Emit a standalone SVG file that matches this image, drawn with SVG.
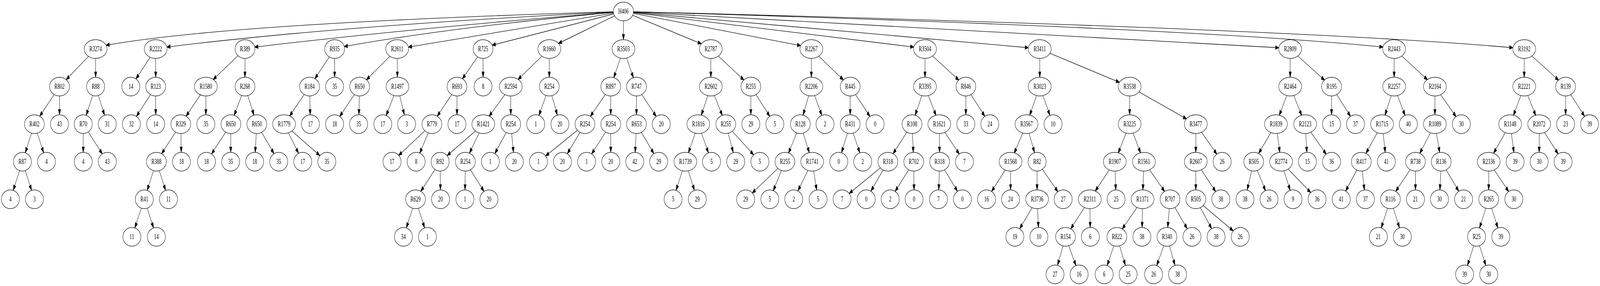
<svg xmlns="http://www.w3.org/2000/svg" width="6381" height="731" viewBox="0 0 6381 731" preserveAspectRatio="none">
<style>
svg{width:100vw;height:100vh}
.ah{fill:#000;stroke:#000;stroke-width:1.33}
#edges line,#edges path{stroke:#000;stroke-width:1.33;fill:none}
.n ellipse{fill:#fff;stroke:#000;stroke-width:1.33}
.n text{font-family:"Liberation Serif","Times New Roman",serif;font-size:18.67px;text-anchor:middle;fill:#000}
</style>
<defs>
<marker id="a0" markerUnits="userSpaceOnUse" markerWidth="120" markerHeight="14" refX="50" refY="7" orient="auto"><path class="ah" d="M50,7L36.67,2.33L36.67,11.67Z"/></marker>
<marker id="a24" markerUnits="userSpaceOnUse" markerWidth="120" markerHeight="14" refX="74" refY="7" orient="auto"><path class="ah" d="M50,7L36.67,2.33L36.67,11.67Z"/></marker>
<marker id="a256" markerUnits="userSpaceOnUse" markerWidth="120" markerHeight="14" refX="75.6" refY="7" orient="auto"><path class="ah" d="M50,7L36.67,2.33L36.67,11.67Z"/></marker>
<marker id="a274" markerUnits="userSpaceOnUse" markerWidth="120" markerHeight="14" refX="77.4" refY="7" orient="auto"><path class="ah" d="M50,7L36.67,2.33L36.67,11.67Z"/></marker>
<marker id="a282" markerUnits="userSpaceOnUse" markerWidth="120" markerHeight="14" refX="78.2" refY="7" orient="auto"><path class="ah" d="M50,7L36.67,2.33L36.67,11.67Z"/></marker>
<marker id="a29" markerUnits="userSpaceOnUse" markerWidth="120" markerHeight="14" refX="79" refY="7" orient="auto"><path class="ah" d="M50,7L36.67,2.33L36.67,11.67Z"/></marker>
<marker id="a30" markerUnits="userSpaceOnUse" markerWidth="120" markerHeight="14" refX="80" refY="7" orient="auto"><path class="ah" d="M50,7L36.67,2.33L36.67,11.67Z"/></marker>
<marker id="a305" markerUnits="userSpaceOnUse" markerWidth="120" markerHeight="14" refX="80.5" refY="7" orient="auto"><path class="ah" d="M50,7L36.67,2.33L36.67,11.67Z"/></marker>
<marker id="a32" markerUnits="userSpaceOnUse" markerWidth="120" markerHeight="14" refX="82" refY="7" orient="auto"><path class="ah" d="M50,7L36.67,2.33L36.67,11.67Z"/></marker>
<marker id="a34" markerUnits="userSpaceOnUse" markerWidth="120" markerHeight="14" refX="84" refY="7" orient="auto"><path class="ah" d="M50,7L36.67,2.33L36.67,11.67Z"/></marker>
<marker id="a39" markerUnits="userSpaceOnUse" markerWidth="120" markerHeight="14" refX="89" refY="7" orient="auto"><path class="ah" d="M50,7L36.67,2.33L36.67,11.67Z"/></marker>
<marker id="a42" markerUnits="userSpaceOnUse" markerWidth="120" markerHeight="14" refX="92" refY="7" orient="auto"><path class="ah" d="M50,7L36.67,2.33L36.67,11.67Z"/></marker>
</defs>
<rect x="0" y="0" width="6381" height="731" fill="#fff"/>
<g id="edges">
<path d="M2486.4,29.3Q921.3,58.6 423,115.6" marker-end="url(#a0)"/>
<path d="M2486.4,29.3Q1345.6,65.7 665.5,120.3" marker-end="url(#a0)"/>
<path d="M2486.4,29.3Q1677.5,70.3 1015.7,120.3" marker-end="url(#a0)"/>
<path d="M2486.4,29.3Q1818.6,67.8 1372.7,118.9" marker-end="url(#a0)"/>
<path d="M2486.4,29.3L1628.6,120.3" marker-end="url(#a0)"/>
<path d="M2486.4,29.3L1962.7,115.6" marker-end="url(#a0)"/>
<path d="M2486.4,29.3L2227.2,111" marker-end="url(#a0)"/>
<path d="M2486.4,29.3L2486.4,101.3" marker-end="url(#a0)"/>
<path d="M2486.4,29.3L2797.1,111.9" marker-end="url(#a0)"/>
<path d="M2486.4,29.3L3193.3,116.6" marker-end="url(#a0)"/>
<path d="M2486.4,29.3L3644.4,120.3" marker-end="url(#a0)"/>
<path d="M2486.4,29.3L4101.5,122" marker-end="url(#a0)"/>
<path d="M2486.4,29.3L5100.2,122" marker-end="url(#a0)"/>
<path d="M2486.4,29.3Q4758,71.1 5515.4,120.3" marker-end="url(#a0)"/>
<path d="M2486.4,29.3Q5166,72.6 6033.6,122" marker-end="url(#a0)"/>
<line x1="381.3" y1="125.3" x2="237.3" y2="221.3" marker-end="url(#a32)"/>
<line x1="381.3" y1="125.3" x2="381.3" y2="221.3" marker-end="url(#a24)"/>
<line x1="237.3" y1="221.3" x2="137.3" y2="317.3" marker-end="url(#a29)"/>
<line x1="237.3" y1="221.3" x2="237.3" y2="317.3" marker-end="url(#a24)"/>
<line x1="381.3" y1="221.3" x2="332" y2="317.3" marker-end="url(#a256)"/>
<line x1="381.3" y1="221.3" x2="428" y2="317.3" marker-end="url(#a256)"/>
<line x1="137.3" y1="317.3" x2="89.3" y2="413.3" marker-end="url(#a256)"/>
<line x1="137.3" y1="317.3" x2="185.3" y2="413.3" marker-end="url(#a256)"/>
<line x1="332" y1="317.3" x2="332" y2="413.3" marker-end="url(#a24)"/>
<line x1="332" y1="317.3" x2="428" y2="413.3" marker-end="url(#a282)"/>
<line x1="89.3" y1="413.3" x2="41.3" y2="509.3" marker-end="url(#a256)"/>
<line x1="89.3" y1="413.3" x2="137.3" y2="509.3" marker-end="url(#a256)"/>
<line x1="620.9" y1="125.3" x2="521.7" y2="221.3" marker-end="url(#a282)"/>
<line x1="620.9" y1="125.3" x2="620.9" y2="221.3" marker-end="url(#a24)"/>
<line x1="620.9" y1="221.3" x2="524" y2="317.3" marker-end="url(#a282)"/>
<line x1="620.9" y1="221.3" x2="620.9" y2="317.3" marker-end="url(#a24)"/>
<line x1="977" y1="125.3" x2="821" y2="221.3" marker-end="url(#a34)"/>
<line x1="977" y1="125.3" x2="977" y2="221.3" marker-end="url(#a24)"/>
<line x1="821" y1="221.3" x2="721.1" y2="317.3" marker-end="url(#a29)"/>
<line x1="821" y1="221.3" x2="821" y2="317.3" marker-end="url(#a24)"/>
<line x1="977" y1="221.3" x2="920.9" y2="317.3" marker-end="url(#a256)"/>
<line x1="977" y1="221.3" x2="1024.2" y2="317.3" marker-end="url(#a256)"/>
<line x1="721.1" y1="317.3" x2="623.7" y2="413.3" marker-end="url(#a29)"/>
<line x1="721.1" y1="317.3" x2="723.5" y2="413.3" marker-end="url(#a24)"/>
<line x1="920.9" y1="317.3" x2="823.4" y2="413.3" marker-end="url(#a282)"/>
<line x1="920.9" y1="317.3" x2="919.8" y2="413.3" marker-end="url(#a24)"/>
<line x1="1024.2" y1="317.3" x2="1015.6" y2="413.3" marker-end="url(#a24)"/>
<line x1="1024.2" y1="317.3" x2="1111.7" y2="413.3" marker-end="url(#a282)"/>
<line x1="623.7" y1="413.3" x2="575.5" y2="509.3" marker-end="url(#a256)"/>
<line x1="623.7" y1="413.3" x2="671.9" y2="509.3" marker-end="url(#a256)"/>
<line x1="575.5" y1="509.3" x2="526" y2="605.3" marker-end="url(#a256)"/>
<line x1="575.5" y1="509.3" x2="623.7" y2="605.3" marker-end="url(#a256)"/>
<line x1="1334.5" y1="125.3" x2="1234.6" y2="221.3" marker-end="url(#a29)"/>
<line x1="1334.5" y1="125.3" x2="1334.5" y2="221.3" marker-end="url(#a24)"/>
<line x1="1234.6" y1="221.3" x2="1133" y2="317.3" marker-end="url(#a30)"/>
<line x1="1234.6" y1="221.3" x2="1238" y2="317.3" marker-end="url(#a24)"/>
<line x1="1133" y1="317.3" x2="1207.4" y2="413.3" marker-end="url(#a274)"/>
<line x1="1133" y1="317.3" x2="1303.5" y2="413.3" marker-end="url(#a32)"/>
<line x1="1584" y1="125.3" x2="1434.3" y2="221.3" marker-end="url(#a32)"/>
<line x1="1584" y1="125.3" x2="1585.2" y2="221.3" marker-end="url(#a24)"/>
<line x1="1434.3" y1="221.3" x2="1334.5" y2="317.3" marker-end="url(#a282)"/>
<line x1="1434.3" y1="221.3" x2="1430.2" y2="317.3" marker-end="url(#a24)"/>
<line x1="1585.2" y1="221.3" x2="1526.6" y2="317.3" marker-end="url(#a256)"/>
<line x1="1585.2" y1="221.3" x2="1621.7" y2="317.3" marker-end="url(#a256)"/>
<line x1="1926.5" y1="125.3" x2="1822.5" y2="221.3" marker-end="url(#a29)"/>
<line x1="1926.5" y1="125.3" x2="1926.5" y2="221.3" marker-end="url(#a24)"/>
<line x1="1822.5" y1="221.3" x2="1722.6" y2="317.3" marker-end="url(#a29)"/>
<line x1="1822.5" y1="221.3" x2="1822.5" y2="317.3" marker-end="url(#a24)"/>
<line x1="1722.6" y1="317.3" x2="1563.5" y2="413.3" marker-end="url(#a305)"/>
<line x1="1722.6" y1="317.3" x2="1659.6" y2="413.3" marker-end="url(#a256)"/>
<line x1="2190.6" y1="125.3" x2="2037" y2="221.3" marker-end="url(#a34)"/>
<line x1="2190.6" y1="125.3" x2="2190.6" y2="221.3" marker-end="url(#a24)"/>
<line x1="2037" y1="221.3" x2="1927.5" y2="317.3" marker-end="url(#a30)"/>
<line x1="2037" y1="221.3" x2="2037" y2="317.3" marker-end="url(#a24)"/>
<line x1="2190.6" y1="221.3" x2="2136.5" y2="317.3" marker-end="url(#a256)"/>
<line x1="2190.6" y1="221.3" x2="2233" y2="317.3" marker-end="url(#a256)"/>
<line x1="1927.5" y1="317.3" x2="1755.3" y2="413.3" marker-end="url(#a32)"/>
<line x1="1927.5" y1="317.3" x2="1855.9" y2="413.3" marker-end="url(#a274)"/>
<line x1="2037" y1="317.3" x2="1955.7" y2="413.3" marker-end="url(#a274)"/>
<line x1="2037" y1="317.3" x2="2051.5" y2="413.3" marker-end="url(#a24)"/>
<line x1="1755.3" y1="413.3" x2="1657.2" y2="509.3" marker-end="url(#a29)"/>
<line x1="1755.3" y1="413.3" x2="1757" y2="509.3" marker-end="url(#a24)"/>
<line x1="1855.9" y1="413.3" x2="1854.1" y2="509.3" marker-end="url(#a24)"/>
<line x1="1855.9" y1="413.3" x2="1949.9" y2="509.3" marker-end="url(#a282)"/>
<line x1="1657.2" y1="509.3" x2="1609" y2="605.3" marker-end="url(#a256)"/>
<line x1="1657.2" y1="509.3" x2="1704.7" y2="605.3" marker-end="url(#a256)"/>
<line x1="2486.4" y1="125.3" x2="2435.8" y2="221.3" marker-end="url(#a256)"/>
<line x1="2486.4" y1="125.3" x2="2538.4" y2="221.3" marker-end="url(#a256)"/>
<line x1="2435.8" y1="221.3" x2="2332.8" y2="317.3" marker-end="url(#a29)"/>
<line x1="2435.8" y1="221.3" x2="2435.8" y2="317.3" marker-end="url(#a24)"/>
<line x1="2538.4" y1="221.3" x2="2538.4" y2="317.3" marker-end="url(#a24)"/>
<line x1="2538.4" y1="221.3" x2="2637.3" y2="317.3" marker-end="url(#a282)"/>
<line x1="2332.8" y1="317.3" x2="2147.6" y2="413.3" marker-end="url(#a32)"/>
<line x1="2332.8" y1="317.3" x2="2243.3" y2="413.3" marker-end="url(#a282)"/>
<line x1="2435.8" y1="317.3" x2="2339.4" y2="413.3" marker-end="url(#a282)"/>
<line x1="2435.8" y1="317.3" x2="2435.8" y2="413.3" marker-end="url(#a24)"/>
<line x1="2538.4" y1="317.3" x2="2531.5" y2="413.3" marker-end="url(#a24)"/>
<line x1="2538.4" y1="317.3" x2="2626.9" y2="413.3" marker-end="url(#a282)"/>
<line x1="2834.9" y1="125.3" x2="2834.9" y2="221.3" marker-end="url(#a24)"/>
<line x1="2834.9" y1="125.3" x2="2994.4" y2="221.3" marker-end="url(#a32)"/>
<line x1="2834.9" y1="221.3" x2="2785" y2="317.3" marker-end="url(#a256)"/>
<line x1="2834.9" y1="221.3" x2="2894.5" y2="317.3" marker-end="url(#a256)"/>
<line x1="2994.4" y1="221.3" x2="2994.4" y2="317.3" marker-end="url(#a24)"/>
<line x1="2994.4" y1="221.3" x2="3090.1" y2="317.3" marker-end="url(#a282)"/>
<line x1="2785" y1="317.3" x2="2733.3" y2="413.3" marker-end="url(#a256)"/>
<line x1="2785" y1="317.3" x2="2837.7" y2="413.3" marker-end="url(#a256)"/>
<line x1="2894.5" y1="317.3" x2="2934.1" y2="413.3" marker-end="url(#a256)"/>
<line x1="2894.5" y1="317.3" x2="3030.5" y2="413.3" marker-end="url(#a305)"/>
<line x1="2733.3" y1="413.3" x2="2684.4" y2="509.3" marker-end="url(#a256)"/>
<line x1="2733.3" y1="413.3" x2="2780.9" y2="509.3" marker-end="url(#a256)"/>
<line x1="3235.8" y1="125.3" x2="3235.8" y2="221.3" marker-end="url(#a24)"/>
<line x1="3235.8" y1="125.3" x2="3390.8" y2="221.3" marker-end="url(#a32)"/>
<line x1="3235.8" y1="221.3" x2="3192" y2="317.3" marker-end="url(#a256)"/>
<line x1="3235.8" y1="221.3" x2="3290.2" y2="317.3" marker-end="url(#a256)"/>
<line x1="3390.8" y1="221.3" x2="3390.8" y2="317.3" marker-end="url(#a24)"/>
<line x1="3390.8" y1="221.3" x2="3490" y2="317.3" marker-end="url(#a282)"/>
<line x1="3192" y1="317.3" x2="3130.4" y2="413.3" marker-end="url(#a256)"/>
<line x1="3192" y1="317.3" x2="3239.2" y2="413.3" marker-end="url(#a256)"/>
<line x1="3390.8" y1="317.3" x2="3345.3" y2="413.3" marker-end="url(#a256)"/>
<line x1="3390.8" y1="317.3" x2="3440.7" y2="413.3" marker-end="url(#a256)"/>
<line x1="3130.4" y1="413.3" x2="2973.7" y2="509.3" marker-end="url(#a305)"/>
<line x1="3130.4" y1="413.3" x2="3070.2" y2="509.3" marker-end="url(#a256)"/>
<line x1="3239.2" y1="413.3" x2="3165.5" y2="509.3" marker-end="url(#a274)"/>
<line x1="3239.2" y1="413.3" x2="3262.7" y2="509.3" marker-end="url(#a24)"/>
<line x1="3689" y1="125.3" x2="3689" y2="221.3" marker-end="url(#a24)"/>
<line x1="3689" y1="125.3" x2="3851.9" y2="221.3" marker-end="url(#a32)"/>
<line x1="3689" y1="221.3" x2="3637.3" y2="317.3" marker-end="url(#a256)"/>
<line x1="3689" y1="221.3" x2="3746.2" y2="317.3" marker-end="url(#a256)"/>
<line x1="3851.9" y1="221.3" x2="3851.9" y2="317.3" marker-end="url(#a24)"/>
<line x1="3851.9" y1="221.3" x2="3947.6" y2="317.3" marker-end="url(#a282)"/>
<line x1="3637.3" y1="317.3" x2="3540.9" y2="413.3" marker-end="url(#a29)"/>
<line x1="3637.3" y1="317.3" x2="3644.2" y2="413.3" marker-end="url(#a24)"/>
<line x1="3746.2" y1="317.3" x2="3747.2" y2="413.3" marker-end="url(#a24)"/>
<line x1="3746.2" y1="317.3" x2="3846.4" y2="413.3" marker-end="url(#a282)"/>
<line x1="3540.9" y1="413.3" x2="3358.4" y2="509.3" marker-end="url(#a32)"/>
<line x1="3540.9" y1="413.3" x2="3454.5" y2="509.3" marker-end="url(#a282)"/>
<line x1="3644.2" y1="413.3" x2="3550.2" y2="509.3" marker-end="url(#a282)"/>
<line x1="3644.2" y1="413.3" x2="3645.6" y2="509.3" marker-end="url(#a24)"/>
<line x1="3747.2" y1="413.3" x2="3742.7" y2="509.3" marker-end="url(#a24)"/>
<line x1="3747.2" y1="413.3" x2="3838.1" y2="509.3" marker-end="url(#a282)"/>
<line x1="4146.7" y1="125.3" x2="4146.7" y2="221.3" marker-end="url(#a24)"/>
<line x1="4146.7" y1="125.3" x2="4505.2" y2="221.3" marker-end="url(#a42)"/>
<line x1="4146.7" y1="221.3" x2="4094" y2="317.3" marker-end="url(#a256)"/>
<line x1="4146.7" y1="221.3" x2="4199.7" y2="317.3" marker-end="url(#a256)"/>
<line x1="4505.2" y1="221.3" x2="4505.2" y2="317.3" marker-end="url(#a24)"/>
<line x1="4505.2" y1="221.3" x2="4769" y2="317.3" marker-end="url(#a39)"/>
<line x1="4094" y1="317.3" x2="4030.3" y2="413.3" marker-end="url(#a256)"/>
<line x1="4094" y1="317.3" x2="4136" y2="413.3" marker-end="url(#a256)"/>
<line x1="4505.2" y1="317.3" x2="4445.9" y2="413.3" marker-end="url(#a256)"/>
<line x1="4505.2" y1="317.3" x2="4562" y2="413.3" marker-end="url(#a256)"/>
<line x1="4769" y1="317.3" x2="4769" y2="413.3" marker-end="url(#a24)"/>
<line x1="4769" y1="317.3" x2="4874" y2="413.3" marker-end="url(#a282)"/>
<line x1="4030.3" y1="413.3" x2="3934.5" y2="509.3" marker-end="url(#a282)"/>
<line x1="4030.3" y1="413.3" x2="4030.3" y2="509.3" marker-end="url(#a24)"/>
<line x1="4136" y1="413.3" x2="4136" y2="509.3" marker-end="url(#a24)"/>
<line x1="4136" y1="413.3" x2="4240" y2="509.3" marker-end="url(#a282)"/>
<line x1="4445.9" y1="413.3" x2="4346.1" y2="509.3" marker-end="url(#a30)"/>
<line x1="4445.9" y1="413.3" x2="4451.1" y2="509.3" marker-end="url(#a24)"/>
<line x1="4562" y1="413.3" x2="4556.8" y2="509.3" marker-end="url(#a24)"/>
<line x1="4562" y1="413.3" x2="4666.3" y2="509.3" marker-end="url(#a29)"/>
<line x1="4769" y1="413.3" x2="4769" y2="509.3" marker-end="url(#a24)"/>
<line x1="4769" y1="413.3" x2="4868.8" y2="509.3" marker-end="url(#a282)"/>
<line x1="4136" y1="509.3" x2="4047.5" y2="605.3" marker-end="url(#a282)"/>
<line x1="4136" y1="509.3" x2="4143.2" y2="605.3" marker-end="url(#a24)"/>
<line x1="4346.1" y1="509.3" x2="4249.5" y2="605.3" marker-end="url(#a29)"/>
<line x1="4346.1" y1="509.3" x2="4348.5" y2="605.3" marker-end="url(#a24)"/>
<line x1="4556.8" y1="509.3" x2="4454.2" y2="605.3" marker-end="url(#a29)"/>
<line x1="4556.8" y1="509.3" x2="4554.1" y2="605.3" marker-end="url(#a24)"/>
<line x1="4666.3" y1="509.3" x2="4654" y2="605.3" marker-end="url(#a24)"/>
<line x1="4666.3" y1="509.3" x2="4753.8" y2="605.3" marker-end="url(#a282)"/>
<line x1="4769" y1="509.3" x2="4849.9" y2="605.3" marker-end="url(#a274)"/>
<line x1="4769" y1="509.3" x2="4946.3" y2="605.3" marker-end="url(#a32)"/>
<line x1="4249.5" y1="605.3" x2="4207.6" y2="701.3" marker-end="url(#a256)"/>
<line x1="4249.5" y1="605.3" x2="4303.7" y2="701.3" marker-end="url(#a256)"/>
<line x1="4454.2" y1="605.3" x2="4403.6" y2="701.3" marker-end="url(#a256)"/>
<line x1="4454.2" y1="605.3" x2="4499" y2="701.3" marker-end="url(#a256)"/>
<line x1="4654" y1="605.3" x2="4600.6" y2="701.3" marker-end="url(#a256)"/>
<line x1="4654" y1="605.3" x2="4696.3" y2="701.3" marker-end="url(#a256)"/>
<line x1="5145.4" y1="125.3" x2="5145.4" y2="221.3" marker-end="url(#a24)"/>
<line x1="5145.4" y1="125.3" x2="5310.5" y2="221.3" marker-end="url(#a32)"/>
<line x1="5145.4" y1="221.3" x2="5088.6" y2="317.3" marker-end="url(#a256)"/>
<line x1="5145.4" y1="221.3" x2="5205" y2="317.3" marker-end="url(#a256)"/>
<line x1="5310.5" y1="221.3" x2="5310.3" y2="317.3" marker-end="url(#a24)"/>
<line x1="5310.5" y1="221.3" x2="5406" y2="317.3" marker-end="url(#a282)"/>
<line x1="5088.6" y1="317.3" x2="5000" y2="413.3" marker-end="url(#a29)"/>
<line x1="5088.6" y1="317.3" x2="5109.2" y2="413.3" marker-end="url(#a24)"/>
<line x1="5205" y1="317.3" x2="5214.3" y2="413.3" marker-end="url(#a24)"/>
<line x1="5205" y1="317.3" x2="5310.3" y2="413.3" marker-end="url(#a282)"/>
<line x1="5000" y1="413.3" x2="4965.3" y2="509.3" marker-end="url(#a256)"/>
<line x1="5000" y1="413.3" x2="5061" y2="509.3" marker-end="url(#a256)"/>
<line x1="5109.2" y1="413.3" x2="5156.7" y2="509.3" marker-end="url(#a256)"/>
<line x1="5109.2" y1="413.3" x2="5252.8" y2="509.3" marker-end="url(#a305)"/>
<line x1="5560" y1="125.3" x2="5560" y2="221.3" marker-end="url(#a24)"/>
<line x1="5560" y1="125.3" x2="5722.6" y2="221.3" marker-end="url(#a34)"/>
<line x1="5560" y1="221.3" x2="5511.8" y2="317.3" marker-end="url(#a256)"/>
<line x1="5560" y1="221.3" x2="5616.8" y2="317.3" marker-end="url(#a256)"/>
<line x1="5722.6" y1="221.3" x2="5722.6" y2="317.3" marker-end="url(#a24)"/>
<line x1="5722.6" y1="221.3" x2="5828" y2="317.3" marker-end="url(#a282)"/>
<line x1="5511.8" y1="317.3" x2="5429.1" y2="413.3" marker-end="url(#a282)"/>
<line x1="5511.8" y1="317.3" x2="5529" y2="413.3" marker-end="url(#a24)"/>
<line x1="5722.6" y1="317.3" x2="5645" y2="413.3" marker-end="url(#a274)"/>
<line x1="5722.6" y1="317.3" x2="5747.7" y2="413.3" marker-end="url(#a24)"/>
<line x1="5429.1" y1="413.3" x2="5348.9" y2="509.3" marker-end="url(#a274)"/>
<line x1="5429.1" y1="413.3" x2="5445.3" y2="509.3" marker-end="url(#a24)"/>
<line x1="5645" y1="413.3" x2="5545.2" y2="509.3" marker-end="url(#a29)"/>
<line x1="5645" y1="413.3" x2="5645" y2="509.3" marker-end="url(#a24)"/>
<line x1="5747.7" y1="413.3" x2="5740.8" y2="509.3" marker-end="url(#a24)"/>
<line x1="5747.7" y1="413.3" x2="5837" y2="509.3" marker-end="url(#a282)"/>
<line x1="5545.2" y1="509.3" x2="5497" y2="605.3" marker-end="url(#a256)"/>
<line x1="5545.2" y1="509.3" x2="5592.7" y2="605.3" marker-end="url(#a256)"/>
<line x1="6078.8" y1="125.3" x2="6078.8" y2="221.3" marker-end="url(#a24)"/>
<line x1="6078.8" y1="125.3" x2="6243.9" y2="221.3" marker-end="url(#a32)"/>
<line x1="6078.8" y1="221.3" x2="6022.6" y2="317.3" marker-end="url(#a256)"/>
<line x1="6078.8" y1="221.3" x2="6138.5" y2="317.3" marker-end="url(#a256)"/>
<line x1="6243.9" y1="221.3" x2="6243.9" y2="317.3" marker-end="url(#a24)"/>
<line x1="6243.9" y1="221.3" x2="6339.5" y2="317.3" marker-end="url(#a282)"/>
<line x1="6022.6" y1="317.3" x2="5937.2" y2="413.3" marker-end="url(#a29)"/>
<line x1="6022.6" y1="317.3" x2="6042.6" y2="413.3" marker-end="url(#a24)"/>
<line x1="6138.5" y1="317.3" x2="6138.5" y2="413.3" marker-end="url(#a24)"/>
<line x1="6138.5" y1="317.3" x2="6234" y2="413.3" marker-end="url(#a282)"/>
<line x1="5937.2" y1="413.3" x2="5937.2" y2="509.3" marker-end="url(#a24)"/>
<line x1="5937.2" y1="413.3" x2="6037.3" y2="509.3" marker-end="url(#a282)"/>
<line x1="5937.2" y1="509.3" x2="5889" y2="605.3" marker-end="url(#a256)"/>
<line x1="5937.2" y1="509.3" x2="5985.3" y2="605.3" marker-end="url(#a256)"/>
<line x1="5889" y1="605.3" x2="5841" y2="701.3" marker-end="url(#a256)"/>
<line x1="5889" y1="605.3" x2="5937.2" y2="701.3" marker-end="url(#a256)"/>
</g>
<g id="nodes">
<g id="n0" class="n"><ellipse cx="2486.4" cy="29.3" rx="40.3" ry="24"/><text x="2486.4" y="34.9">H406</text></g>
<g id="n1" class="n"><ellipse cx="381.3" cy="125.3" rx="45.6" ry="24"/><text x="381.3" y="130.9">R3274</text></g>
<g id="n2" class="n"><ellipse cx="237.3" cy="221.3" rx="39.6" ry="24"/><text x="237.3" y="226.9">R802</text></g>
<g id="n3" class="n"><ellipse cx="381.3" cy="221.3" rx="36" ry="24"/><text x="381.3" y="226.9">R88</text></g>
<g id="n4" class="n"><ellipse cx="137.3" cy="317.3" rx="39.6" ry="24"/><text x="137.3" y="322.9">R402</text></g>
<g id="n5" class="n"><ellipse cx="237.3" cy="317.3" rx="36" ry="24"/><text x="237.3" y="322.9">43</text></g>
<g id="n6" class="n"><ellipse cx="332" cy="317.3" rx="36" ry="24"/><text x="332" y="322.9">R70</text></g>
<g id="n7" class="n"><ellipse cx="428" cy="317.3" rx="36" ry="24"/><text x="428" y="322.9">31</text></g>
<g id="n8" class="n"><ellipse cx="89.3" cy="413.3" rx="36" ry="24"/><text x="89.3" y="418.9">R87</text></g>
<g id="n9" class="n"><ellipse cx="185.3" cy="413.3" rx="36" ry="24"/><text x="185.3" y="418.9">4</text></g>
<g id="n10" class="n"><ellipse cx="332" cy="413.3" rx="36" ry="24"/><text x="332" y="418.9">4</text></g>
<g id="n11" class="n"><ellipse cx="428" cy="413.3" rx="36" ry="24"/><text x="428" y="418.9">43</text></g>
<g id="n12" class="n"><ellipse cx="41.3" cy="509.3" rx="36" ry="24"/><text x="41.3" y="514.9">4</text></g>
<g id="n13" class="n"><ellipse cx="137.3" cy="509.3" rx="36" ry="24"/><text x="137.3" y="514.9">3</text></g>
<g id="n14" class="n"><ellipse cx="620.9" cy="125.3" rx="45.6" ry="24"/><text x="620.9" y="130.9">R2222</text></g>
<g id="n15" class="n"><ellipse cx="521.7" cy="221.3" rx="36" ry="24"/><text x="521.7" y="226.9">14</text></g>
<g id="n16" class="n"><ellipse cx="620.9" cy="221.3" rx="39.6" ry="24"/><text x="620.9" y="226.9">R123</text></g>
<g id="n17" class="n"><ellipse cx="524" cy="317.3" rx="36" ry="24"/><text x="524" y="322.9">32</text></g>
<g id="n18" class="n"><ellipse cx="620.9" cy="317.3" rx="36" ry="24"/><text x="620.9" y="322.9">14</text></g>
<g id="n19" class="n"><ellipse cx="977" cy="125.3" rx="39.6" ry="24"/><text x="977" y="130.9">R389</text></g>
<g id="n20" class="n"><ellipse cx="821" cy="221.3" rx="45.6" ry="24"/><text x="821" y="226.9">R1580</text></g>
<g id="n21" class="n"><ellipse cx="977" cy="221.3" rx="39.6" ry="24"/><text x="977" y="226.9">R268</text></g>
<g id="n22" class="n"><ellipse cx="721.1" cy="317.3" rx="39.6" ry="24"/><text x="721.1" y="322.9">R329</text></g>
<g id="n23" class="n"><ellipse cx="821" cy="317.3" rx="36" ry="24"/><text x="821" y="322.9">35</text></g>
<g id="n24" class="n"><ellipse cx="920.9" cy="317.3" rx="39.6" ry="24"/><text x="920.9" y="322.9">R650</text></g>
<g id="n25" class="n"><ellipse cx="1024.2" cy="317.3" rx="39.6" ry="24"/><text x="1024.2" y="322.9">R650</text></g>
<g id="n26" class="n"><ellipse cx="623.7" cy="413.3" rx="39.6" ry="24"/><text x="623.7" y="418.9">R388</text></g>
<g id="n27" class="n"><ellipse cx="723.5" cy="413.3" rx="36" ry="24"/><text x="723.5" y="418.9">18</text></g>
<g id="n28" class="n"><ellipse cx="823.4" cy="413.3" rx="36" ry="24"/><text x="823.4" y="418.9">18</text></g>
<g id="n29" class="n"><ellipse cx="919.8" cy="413.3" rx="36" ry="24"/><text x="919.8" y="418.9">35</text></g>
<g id="n30" class="n"><ellipse cx="1015.6" cy="413.3" rx="36" ry="24"/><text x="1015.6" y="418.9">18</text></g>
<g id="n31" class="n"><ellipse cx="1111.7" cy="413.3" rx="36" ry="24"/><text x="1111.7" y="418.9">35</text></g>
<g id="n32" class="n"><ellipse cx="575.5" cy="509.3" rx="36" ry="24"/><text x="575.5" y="514.9">R41</text></g>
<g id="n33" class="n"><ellipse cx="671.9" cy="509.3" rx="36" ry="24"/><text x="671.9" y="514.9">11</text></g>
<g id="n34" class="n"><ellipse cx="526" cy="605.3" rx="36" ry="24"/><text x="526" y="610.9">11</text></g>
<g id="n35" class="n"><ellipse cx="623.7" cy="605.3" rx="36" ry="24"/><text x="623.7" y="610.9">14</text></g>
<g id="n36" class="n"><ellipse cx="1334.5" cy="125.3" rx="39.6" ry="24"/><text x="1334.5" y="130.9">R935</text></g>
<g id="n37" class="n"><ellipse cx="1234.6" cy="221.3" rx="39.6" ry="24"/><text x="1234.6" y="226.9">R184</text></g>
<g id="n38" class="n"><ellipse cx="1334.5" cy="221.3" rx="36" ry="24"/><text x="1334.5" y="226.9">35</text></g>
<g id="n39" class="n"><ellipse cx="1133" cy="317.3" rx="45.6" ry="24"/><text x="1133" y="322.9">R1779</text></g>
<g id="n40" class="n"><ellipse cx="1238" cy="317.3" rx="36" ry="24"/><text x="1238" y="322.9">17</text></g>
<g id="n41" class="n"><ellipse cx="1207.4" cy="413.3" rx="36" ry="24"/><text x="1207.4" y="418.9">17</text></g>
<g id="n42" class="n"><ellipse cx="1303.5" cy="413.3" rx="36" ry="24"/><text x="1303.5" y="418.9">35</text></g>
<g id="n43" class="n"><ellipse cx="1584" cy="125.3" rx="45.6" ry="24"/><text x="1584" y="130.9">R2611</text></g>
<g id="n44" class="n"><ellipse cx="1434.3" cy="221.3" rx="39.6" ry="24"/><text x="1434.3" y="226.9">R650</text></g>
<g id="n45" class="n"><ellipse cx="1585.2" cy="221.3" rx="45.6" ry="24"/><text x="1585.2" y="226.9">R1497</text></g>
<g id="n46" class="n"><ellipse cx="1334.5" cy="317.3" rx="36" ry="24"/><text x="1334.5" y="322.9">18</text></g>
<g id="n47" class="n"><ellipse cx="1430.2" cy="317.3" rx="36" ry="24"/><text x="1430.2" y="322.9">35</text></g>
<g id="n48" class="n"><ellipse cx="1526.6" cy="317.3" rx="36" ry="24"/><text x="1526.6" y="322.9">17</text></g>
<g id="n49" class="n"><ellipse cx="1621.7" cy="317.3" rx="36" ry="24"/><text x="1621.7" y="322.9">3</text></g>
<g id="n50" class="n"><ellipse cx="1926.5" cy="125.3" rx="39.6" ry="24"/><text x="1926.5" y="130.9">R725</text></g>
<g id="n51" class="n"><ellipse cx="1822.5" cy="221.3" rx="39.6" ry="24"/><text x="1822.5" y="226.9">R693</text></g>
<g id="n52" class="n"><ellipse cx="1926.5" cy="221.3" rx="36" ry="24"/><text x="1926.5" y="226.9">8</text></g>
<g id="n53" class="n"><ellipse cx="1722.6" cy="317.3" rx="39.6" ry="24"/><text x="1722.6" y="322.9">R779</text></g>
<g id="n54" class="n"><ellipse cx="1822.5" cy="317.3" rx="36" ry="24"/><text x="1822.5" y="322.9">17</text></g>
<g id="n55" class="n"><ellipse cx="1563.5" cy="413.3" rx="36" ry="24"/><text x="1563.5" y="418.9">17</text></g>
<g id="n56" class="n"><ellipse cx="1659.6" cy="413.3" rx="36" ry="24"/><text x="1659.6" y="418.9">8</text></g>
<g id="n57" class="n"><ellipse cx="2190.6" cy="125.3" rx="45.6" ry="24"/><text x="2190.6" y="130.9">R1660</text></g>
<g id="n58" class="n"><ellipse cx="2037" cy="221.3" rx="45.6" ry="24"/><text x="2037" y="226.9">R2594</text></g>
<g id="n59" class="n"><ellipse cx="2190.6" cy="221.3" rx="39.6" ry="24"/><text x="2190.6" y="226.9">R254</text></g>
<g id="n60" class="n"><ellipse cx="1927.5" cy="317.3" rx="45.6" ry="24"/><text x="1927.5" y="322.9">R1421</text></g>
<g id="n61" class="n"><ellipse cx="2037" cy="317.3" rx="39.6" ry="24"/><text x="2037" y="322.9">R254</text></g>
<g id="n62" class="n"><ellipse cx="2136.5" cy="317.3" rx="36" ry="24"/><text x="2136.5" y="322.9">1</text></g>
<g id="n63" class="n"><ellipse cx="2233" cy="317.3" rx="36" ry="24"/><text x="2233" y="322.9">20</text></g>
<g id="n64" class="n"><ellipse cx="1755.3" cy="413.3" rx="36" ry="24"/><text x="1755.3" y="418.9">R92</text></g>
<g id="n65" class="n"><ellipse cx="1855.9" cy="413.3" rx="39.6" ry="24"/><text x="1855.9" y="418.9">R254</text></g>
<g id="n66" class="n"><ellipse cx="1955.7" cy="413.3" rx="36" ry="24"/><text x="1955.7" y="418.9">1</text></g>
<g id="n67" class="n"><ellipse cx="2051.5" cy="413.3" rx="36" ry="24"/><text x="2051.5" y="418.9">20</text></g>
<g id="n68" class="n"><ellipse cx="1657.2" cy="509.3" rx="39.6" ry="24"/><text x="1657.2" y="514.9">R629</text></g>
<g id="n69" class="n"><ellipse cx="1757" cy="509.3" rx="36" ry="24"/><text x="1757" y="514.9">20</text></g>
<g id="n70" class="n"><ellipse cx="1854.1" cy="509.3" rx="36" ry="24"/><text x="1854.1" y="514.9">1</text></g>
<g id="n71" class="n"><ellipse cx="1949.9" cy="509.3" rx="36" ry="24"/><text x="1949.9" y="514.9">20</text></g>
<g id="n72" class="n"><ellipse cx="1609" cy="605.3" rx="36" ry="24"/><text x="1609" y="610.9">34</text></g>
<g id="n73" class="n"><ellipse cx="1704.7" cy="605.3" rx="36" ry="24"/><text x="1704.7" y="610.9">1</text></g>
<g id="n74" class="n"><ellipse cx="2486.4" cy="125.3" rx="45.6" ry="24"/><text x="2486.4" y="130.9">R3503</text></g>
<g id="n75" class="n"><ellipse cx="2435.8" cy="221.3" rx="39.6" ry="24"/><text x="2435.8" y="226.9">R897</text></g>
<g id="n76" class="n"><ellipse cx="2538.4" cy="221.3" rx="39.6" ry="24"/><text x="2538.4" y="226.9">R747</text></g>
<g id="n77" class="n"><ellipse cx="2332.8" cy="317.3" rx="39.6" ry="24"/><text x="2332.8" y="322.9">R254</text></g>
<g id="n78" class="n"><ellipse cx="2435.8" cy="317.3" rx="39.6" ry="24"/><text x="2435.8" y="322.9">R254</text></g>
<g id="n79" class="n"><ellipse cx="2538.4" cy="317.3" rx="39.6" ry="24"/><text x="2538.4" y="322.9">R653</text></g>
<g id="n80" class="n"><ellipse cx="2637.3" cy="317.3" rx="36" ry="24"/><text x="2637.3" y="322.9">20</text></g>
<g id="n81" class="n"><ellipse cx="2147.6" cy="413.3" rx="36" ry="24"/><text x="2147.6" y="418.9">1</text></g>
<g id="n82" class="n"><ellipse cx="2243.3" cy="413.3" rx="36" ry="24"/><text x="2243.3" y="418.9">20</text></g>
<g id="n83" class="n"><ellipse cx="2339.4" cy="413.3" rx="36" ry="24"/><text x="2339.4" y="418.9">1</text></g>
<g id="n84" class="n"><ellipse cx="2435.8" cy="413.3" rx="36" ry="24"/><text x="2435.8" y="418.9">20</text></g>
<g id="n85" class="n"><ellipse cx="2531.5" cy="413.3" rx="36" ry="24"/><text x="2531.5" y="418.9">42</text></g>
<g id="n86" class="n"><ellipse cx="2626.9" cy="413.3" rx="36" ry="24"/><text x="2626.9" y="418.9">29</text></g>
<g id="n87" class="n"><ellipse cx="2834.9" cy="125.3" rx="45.6" ry="24"/><text x="2834.9" y="130.9">R2787</text></g>
<g id="n88" class="n"><ellipse cx="2834.9" cy="221.3" rx="45.6" ry="24"/><text x="2834.9" y="226.9">R2602</text></g>
<g id="n89" class="n"><ellipse cx="2994.4" cy="221.3" rx="39.6" ry="24"/><text x="2994.4" y="226.9">R255</text></g>
<g id="n90" class="n"><ellipse cx="2785" cy="317.3" rx="45.6" ry="24"/><text x="2785" y="322.9">R1816</text></g>
<g id="n91" class="n"><ellipse cx="2894.5" cy="317.3" rx="39.6" ry="24"/><text x="2894.5" y="322.9">R255</text></g>
<g id="n92" class="n"><ellipse cx="2994.4" cy="317.3" rx="36" ry="24"/><text x="2994.4" y="322.9">29</text></g>
<g id="n93" class="n"><ellipse cx="3090.1" cy="317.3" rx="36" ry="24"/><text x="3090.1" y="322.9">5</text></g>
<g id="n94" class="n"><ellipse cx="2733.3" cy="413.3" rx="45.6" ry="24"/><text x="2733.3" y="418.9">R1739</text></g>
<g id="n95" class="n"><ellipse cx="2837.7" cy="413.3" rx="36" ry="24"/><text x="2837.7" y="418.9">5</text></g>
<g id="n96" class="n"><ellipse cx="2934.1" cy="413.3" rx="36" ry="24"/><text x="2934.1" y="418.9">29</text></g>
<g id="n97" class="n"><ellipse cx="3030.5" cy="413.3" rx="36" ry="24"/><text x="3030.5" y="418.9">5</text></g>
<g id="n98" class="n"><ellipse cx="2684.4" cy="509.3" rx="36" ry="24"/><text x="2684.4" y="514.9">5</text></g>
<g id="n99" class="n"><ellipse cx="2780.9" cy="509.3" rx="36" ry="24"/><text x="2780.9" y="514.9">29</text></g>
<g id="n100" class="n"><ellipse cx="3235.8" cy="125.3" rx="45.6" ry="24"/><text x="3235.8" y="130.9">R2267</text></g>
<g id="n101" class="n"><ellipse cx="3235.8" cy="221.3" rx="45.6" ry="24"/><text x="3235.8" y="226.9">R2206</text></g>
<g id="n102" class="n"><ellipse cx="3390.8" cy="221.3" rx="39.6" ry="24"/><text x="3390.8" y="226.9">R445</text></g>
<g id="n103" class="n"><ellipse cx="3192" cy="317.3" rx="39.6" ry="24"/><text x="3192" y="322.9">R128</text></g>
<g id="n104" class="n"><ellipse cx="3290.2" cy="317.3" rx="36" ry="24"/><text x="3290.2" y="322.9">2</text></g>
<g id="n105" class="n"><ellipse cx="3390.8" cy="317.3" rx="39.6" ry="24"/><text x="3390.8" y="322.9">R431</text></g>
<g id="n106" class="n"><ellipse cx="3490" cy="317.3" rx="36" ry="24"/><text x="3490" y="322.9">0</text></g>
<g id="n107" class="n"><ellipse cx="3130.4" cy="413.3" rx="39.6" ry="24"/><text x="3130.4" y="418.9">R255</text></g>
<g id="n108" class="n"><ellipse cx="3239.2" cy="413.3" rx="45.6" ry="24"/><text x="3239.2" y="418.9">R1741</text></g>
<g id="n109" class="n"><ellipse cx="3345.3" cy="413.3" rx="36" ry="24"/><text x="3345.3" y="418.9">0</text></g>
<g id="n110" class="n"><ellipse cx="3440.7" cy="413.3" rx="36" ry="24"/><text x="3440.7" y="418.9">2</text></g>
<g id="n111" class="n"><ellipse cx="2973.7" cy="509.3" rx="36" ry="24"/><text x="2973.7" y="514.9">29</text></g>
<g id="n112" class="n"><ellipse cx="3070.2" cy="509.3" rx="36" ry="24"/><text x="3070.2" y="514.9">5</text></g>
<g id="n113" class="n"><ellipse cx="3165.5" cy="509.3" rx="36" ry="24"/><text x="3165.5" y="514.9">2</text></g>
<g id="n114" class="n"><ellipse cx="3262.7" cy="509.3" rx="36" ry="24"/><text x="3262.7" y="514.9">5</text></g>
<g id="n115" class="n"><ellipse cx="3689" cy="125.3" rx="45.6" ry="24"/><text x="3689" y="130.9">R3504</text></g>
<g id="n116" class="n"><ellipse cx="3689" cy="221.3" rx="45.6" ry="24"/><text x="3689" y="226.9">R3395</text></g>
<g id="n117" class="n"><ellipse cx="3851.9" cy="221.3" rx="39.6" ry="24"/><text x="3851.9" y="226.9">R846</text></g>
<g id="n118" class="n"><ellipse cx="3637.3" cy="317.3" rx="39.6" ry="24"/><text x="3637.3" y="322.9">R108</text></g>
<g id="n119" class="n"><ellipse cx="3746.2" cy="317.3" rx="45.6" ry="24"/><text x="3746.2" y="322.9">R1621</text></g>
<g id="n120" class="n"><ellipse cx="3851.9" cy="317.3" rx="36" ry="24"/><text x="3851.9" y="322.9">33</text></g>
<g id="n121" class="n"><ellipse cx="3947.6" cy="317.3" rx="36" ry="24"/><text x="3947.6" y="322.9">24</text></g>
<g id="n122" class="n"><ellipse cx="3540.9" cy="413.3" rx="39.6" ry="24"/><text x="3540.9" y="418.9">R318</text></g>
<g id="n123" class="n"><ellipse cx="3644.2" cy="413.3" rx="39.6" ry="24"/><text x="3644.2" y="418.9">R702</text></g>
<g id="n124" class="n"><ellipse cx="3747.2" cy="413.3" rx="39.6" ry="24"/><text x="3747.2" y="418.9">R318</text></g>
<g id="n125" class="n"><ellipse cx="3846.4" cy="413.3" rx="36" ry="24"/><text x="3846.4" y="418.9">7</text></g>
<g id="n126" class="n"><ellipse cx="3358.4" cy="509.3" rx="36" ry="24"/><text x="3358.4" y="514.9">7</text></g>
<g id="n127" class="n"><ellipse cx="3454.5" cy="509.3" rx="36" ry="24"/><text x="3454.5" y="514.9">0</text></g>
<g id="n128" class="n"><ellipse cx="3550.2" cy="509.3" rx="36" ry="24"/><text x="3550.2" y="514.9">2</text></g>
<g id="n129" class="n"><ellipse cx="3645.6" cy="509.3" rx="36" ry="24"/><text x="3645.6" y="514.9">0</text></g>
<g id="n130" class="n"><ellipse cx="3742.7" cy="509.3" rx="36" ry="24"/><text x="3742.7" y="514.9">7</text></g>
<g id="n131" class="n"><ellipse cx="3838.1" cy="509.3" rx="36" ry="24"/><text x="3838.1" y="514.9">0</text></g>
<g id="n132" class="n"><ellipse cx="4146.7" cy="125.3" rx="45.6" ry="24"/><text x="4146.7" y="130.9">R3411</text></g>
<g id="n133" class="n"><ellipse cx="4146.7" cy="221.3" rx="45.6" ry="24"/><text x="4146.7" y="226.9">R3023</text></g>
<g id="n134" class="n"><ellipse cx="4505.2" cy="221.3" rx="45.6" ry="24"/><text x="4505.2" y="226.9">R3538</text></g>
<g id="n135" class="n"><ellipse cx="4094" cy="317.3" rx="45.6" ry="24"/><text x="4094" y="322.9">R3567</text></g>
<g id="n136" class="n"><ellipse cx="4199.7" cy="317.3" rx="36" ry="24"/><text x="4199.7" y="322.9">10</text></g>
<g id="n137" class="n"><ellipse cx="4505.2" cy="317.3" rx="45.6" ry="24"/><text x="4505.2" y="322.9">R3225</text></g>
<g id="n138" class="n"><ellipse cx="4769" cy="317.3" rx="45.6" ry="24"/><text x="4769" y="322.9">R3477</text></g>
<g id="n139" class="n"><ellipse cx="4030.3" cy="413.3" rx="45.6" ry="24"/><text x="4030.3" y="418.9">R1568</text></g>
<g id="n140" class="n"><ellipse cx="4136" cy="413.3" rx="36" ry="24"/><text x="4136" y="418.9">R82</text></g>
<g id="n141" class="n"><ellipse cx="4445.9" cy="413.3" rx="45.6" ry="24"/><text x="4445.9" y="418.9">R1907</text></g>
<g id="n142" class="n"><ellipse cx="4562" cy="413.3" rx="45.6" ry="24"/><text x="4562" y="418.9">R1561</text></g>
<g id="n143" class="n"><ellipse cx="4769" cy="413.3" rx="45.6" ry="24"/><text x="4769" y="418.9">R2607</text></g>
<g id="n144" class="n"><ellipse cx="4874" cy="413.3" rx="36" ry="24"/><text x="4874" y="418.9">26</text></g>
<g id="n145" class="n"><ellipse cx="3934.5" cy="509.3" rx="36" ry="24"/><text x="3934.5" y="514.9">16</text></g>
<g id="n146" class="n"><ellipse cx="4030.3" cy="509.3" rx="36" ry="24"/><text x="4030.3" y="514.9">24</text></g>
<g id="n147" class="n"><ellipse cx="4136" cy="509.3" rx="45.6" ry="24"/><text x="4136" y="514.9">R3736</text></g>
<g id="n148" class="n"><ellipse cx="4240" cy="509.3" rx="36" ry="24"/><text x="4240" y="514.9">27</text></g>
<g id="n149" class="n"><ellipse cx="4346.1" cy="509.3" rx="45.6" ry="24"/><text x="4346.1" y="514.9">R2311</text></g>
<g id="n150" class="n"><ellipse cx="4451.1" cy="509.3" rx="36" ry="24"/><text x="4451.1" y="514.9">25</text></g>
<g id="n151" class="n"><ellipse cx="4556.8" cy="509.3" rx="45.6" ry="24"/><text x="4556.8" y="514.9">R1371</text></g>
<g id="n152" class="n"><ellipse cx="4666.3" cy="509.3" rx="39.6" ry="24"/><text x="4666.3" y="514.9">R707</text></g>
<g id="n153" class="n"><ellipse cx="4769" cy="509.3" rx="39.6" ry="24"/><text x="4769" y="514.9">R505</text></g>
<g id="n154" class="n"><ellipse cx="4868.8" cy="509.3" rx="36" ry="24"/><text x="4868.8" y="514.9">38</text></g>
<g id="n155" class="n"><ellipse cx="4047.5" cy="605.3" rx="36" ry="24"/><text x="4047.5" y="610.9">19</text></g>
<g id="n156" class="n"><ellipse cx="4143.2" cy="605.3" rx="36" ry="24"/><text x="4143.2" y="610.9">10</text></g>
<g id="n157" class="n"><ellipse cx="4249.5" cy="605.3" rx="39.6" ry="24"/><text x="4249.5" y="610.9">R154</text></g>
<g id="n158" class="n"><ellipse cx="4348.5" cy="605.3" rx="36" ry="24"/><text x="4348.5" y="610.9">6</text></g>
<g id="n159" class="n"><ellipse cx="4454.2" cy="605.3" rx="39.6" ry="24"/><text x="4454.2" y="610.9">R822</text></g>
<g id="n160" class="n"><ellipse cx="4554.1" cy="605.3" rx="36" ry="24"/><text x="4554.1" y="610.9">38</text></g>
<g id="n161" class="n"><ellipse cx="4654" cy="605.3" rx="39.6" ry="24"/><text x="4654" y="610.9">R340</text></g>
<g id="n162" class="n"><ellipse cx="4753.8" cy="605.3" rx="36" ry="24"/><text x="4753.8" y="610.9">26</text></g>
<g id="n163" class="n"><ellipse cx="4849.9" cy="605.3" rx="36" ry="24"/><text x="4849.9" y="610.9">38</text></g>
<g id="n164" class="n"><ellipse cx="4946.3" cy="605.3" rx="36" ry="24"/><text x="4946.3" y="610.9">26</text></g>
<g id="n165" class="n"><ellipse cx="4207.6" cy="701.3" rx="36" ry="24"/><text x="4207.6" y="706.9">27</text></g>
<g id="n166" class="n"><ellipse cx="4303.7" cy="701.3" rx="36" ry="24"/><text x="4303.7" y="706.9">16</text></g>
<g id="n167" class="n"><ellipse cx="4403.6" cy="701.3" rx="36" ry="24"/><text x="4403.6" y="706.9">6</text></g>
<g id="n168" class="n"><ellipse cx="4499" cy="701.3" rx="36" ry="24"/><text x="4499" y="706.9">25</text></g>
<g id="n169" class="n"><ellipse cx="4600.6" cy="701.3" rx="36" ry="24"/><text x="4600.6" y="706.9">26</text></g>
<g id="n170" class="n"><ellipse cx="4696.3" cy="701.3" rx="36" ry="24"/><text x="4696.3" y="706.9">38</text></g>
<g id="n171" class="n"><ellipse cx="5145.4" cy="125.3" rx="45.6" ry="24"/><text x="5145.4" y="130.9">R2809</text></g>
<g id="n172" class="n"><ellipse cx="5145.4" cy="221.3" rx="45.6" ry="24"/><text x="5145.4" y="226.9">R2464</text></g>
<g id="n173" class="n"><ellipse cx="5310.5" cy="221.3" rx="39.6" ry="24"/><text x="5310.5" y="226.9">R195</text></g>
<g id="n174" class="n"><ellipse cx="5088.6" cy="317.3" rx="45.6" ry="24"/><text x="5088.6" y="322.9">R1839</text></g>
<g id="n175" class="n"><ellipse cx="5205" cy="317.3" rx="45.6" ry="24"/><text x="5205" y="322.9">R2123</text></g>
<g id="n176" class="n"><ellipse cx="5310.3" cy="317.3" rx="36" ry="24"/><text x="5310.3" y="322.9">15</text></g>
<g id="n177" class="n"><ellipse cx="5406" cy="317.3" rx="36" ry="24"/><text x="5406" y="322.9">37</text></g>
<g id="n178" class="n"><ellipse cx="5000" cy="413.3" rx="39.6" ry="24"/><text x="5000" y="418.9">R505</text></g>
<g id="n179" class="n"><ellipse cx="5109.2" cy="413.3" rx="45.6" ry="24"/><text x="5109.2" y="418.9">R2774</text></g>
<g id="n180" class="n"><ellipse cx="5214.3" cy="413.3" rx="36" ry="24"/><text x="5214.3" y="418.9">15</text></g>
<g id="n181" class="n"><ellipse cx="5310.3" cy="413.3" rx="36" ry="24"/><text x="5310.3" y="418.9">36</text></g>
<g id="n182" class="n"><ellipse cx="4965.3" cy="509.3" rx="36" ry="24"/><text x="4965.3" y="514.9">38</text></g>
<g id="n183" class="n"><ellipse cx="5061" cy="509.3" rx="36" ry="24"/><text x="5061" y="514.9">26</text></g>
<g id="n184" class="n"><ellipse cx="5156.7" cy="509.3" rx="36" ry="24"/><text x="5156.7" y="514.9">9</text></g>
<g id="n185" class="n"><ellipse cx="5252.8" cy="509.3" rx="36" ry="24"/><text x="5252.8" y="514.9">36</text></g>
<g id="n186" class="n"><ellipse cx="5560" cy="125.3" rx="45.6" ry="24"/><text x="5560" y="130.9">R2443</text></g>
<g id="n187" class="n"><ellipse cx="5560" cy="221.3" rx="45.6" ry="24"/><text x="5560" y="226.9">R2257</text></g>
<g id="n188" class="n"><ellipse cx="5722.6" cy="221.3" rx="45.6" ry="24"/><text x="5722.6" y="226.9">R2164</text></g>
<g id="n189" class="n"><ellipse cx="5511.8" cy="317.3" rx="45.6" ry="24"/><text x="5511.8" y="322.9">R1715</text></g>
<g id="n190" class="n"><ellipse cx="5616.8" cy="317.3" rx="36" ry="24"/><text x="5616.8" y="322.9">40</text></g>
<g id="n191" class="n"><ellipse cx="5722.6" cy="317.3" rx="45.6" ry="24"/><text x="5722.6" y="322.9">R1089</text></g>
<g id="n192" class="n"><ellipse cx="5828" cy="317.3" rx="36" ry="24"/><text x="5828" y="322.9">30</text></g>
<g id="n193" class="n"><ellipse cx="5429.1" cy="413.3" rx="39.6" ry="24"/><text x="5429.1" y="418.9">R417</text></g>
<g id="n194" class="n"><ellipse cx="5529" cy="413.3" rx="36" ry="24"/><text x="5529" y="418.9">41</text></g>
<g id="n195" class="n"><ellipse cx="5645" cy="413.3" rx="39.6" ry="24"/><text x="5645" y="418.9">R738</text></g>
<g id="n196" class="n"><ellipse cx="5747.7" cy="413.3" rx="39.6" ry="24"/><text x="5747.7" y="418.9">R136</text></g>
<g id="n197" class="n"><ellipse cx="5348.9" cy="509.3" rx="36" ry="24"/><text x="5348.9" y="514.9">41</text></g>
<g id="n198" class="n"><ellipse cx="5445.3" cy="509.3" rx="36" ry="24"/><text x="5445.3" y="514.9">37</text></g>
<g id="n199" class="n"><ellipse cx="5545.2" cy="509.3" rx="39.6" ry="24"/><text x="5545.2" y="514.9">R116</text></g>
<g id="n200" class="n"><ellipse cx="5645" cy="509.3" rx="36" ry="24"/><text x="5645" y="514.9">21</text></g>
<g id="n201" class="n"><ellipse cx="5740.8" cy="509.3" rx="36" ry="24"/><text x="5740.8" y="514.9">30</text></g>
<g id="n202" class="n"><ellipse cx="5837" cy="509.3" rx="36" ry="24"/><text x="5837" y="514.9">21</text></g>
<g id="n203" class="n"><ellipse cx="5497" cy="605.3" rx="36" ry="24"/><text x="5497" y="610.9">21</text></g>
<g id="n204" class="n"><ellipse cx="5592.7" cy="605.3" rx="36" ry="24"/><text x="5592.7" y="610.9">30</text></g>
<g id="n205" class="n"><ellipse cx="6078.8" cy="125.3" rx="45.6" ry="24"/><text x="6078.8" y="130.9">R3192</text></g>
<g id="n206" class="n"><ellipse cx="6078.8" cy="221.3" rx="45.6" ry="24"/><text x="6078.8" y="226.9">R2221</text></g>
<g id="n207" class="n"><ellipse cx="6243.9" cy="221.3" rx="39.6" ry="24"/><text x="6243.9" y="226.9">R139</text></g>
<g id="n208" class="n"><ellipse cx="6022.6" cy="317.3" rx="45.6" ry="24"/><text x="6022.6" y="322.9">R1148</text></g>
<g id="n209" class="n"><ellipse cx="6138.5" cy="317.3" rx="45.6" ry="24"/><text x="6138.5" y="322.9">R2072</text></g>
<g id="n210" class="n"><ellipse cx="6243.9" cy="317.3" rx="36" ry="24"/><text x="6243.9" y="322.9">23</text></g>
<g id="n211" class="n"><ellipse cx="6339.5" cy="317.3" rx="36" ry="24"/><text x="6339.5" y="322.9">39</text></g>
<g id="n212" class="n"><ellipse cx="5937.2" cy="413.3" rx="45.6" ry="24"/><text x="5937.2" y="418.9">R2336</text></g>
<g id="n213" class="n"><ellipse cx="6042.6" cy="413.3" rx="36" ry="24"/><text x="6042.6" y="418.9">39</text></g>
<g id="n214" class="n"><ellipse cx="6138.5" cy="413.3" rx="36" ry="24"/><text x="6138.5" y="418.9">30</text></g>
<g id="n215" class="n"><ellipse cx="6234" cy="413.3" rx="36" ry="24"/><text x="6234" y="418.9">39</text></g>
<g id="n216" class="n"><ellipse cx="5937.2" cy="509.3" rx="39.6" ry="24"/><text x="5937.2" y="514.9">R265</text></g>
<g id="n217" class="n"><ellipse cx="6037.3" cy="509.3" rx="36" ry="24"/><text x="6037.3" y="514.9">30</text></g>
<g id="n218" class="n"><ellipse cx="5889" cy="605.3" rx="36" ry="24"/><text x="5889" y="610.9">R25</text></g>
<g id="n219" class="n"><ellipse cx="5985.3" cy="605.3" rx="36" ry="24"/><text x="5985.3" y="610.9">39</text></g>
<g id="n220" class="n"><ellipse cx="5841" cy="701.3" rx="36" ry="24"/><text x="5841" y="706.9">39</text></g>
<g id="n221" class="n"><ellipse cx="5937.2" cy="701.3" rx="36" ry="24"/><text x="5937.2" y="706.9">30</text></g>
</g>
</svg>
